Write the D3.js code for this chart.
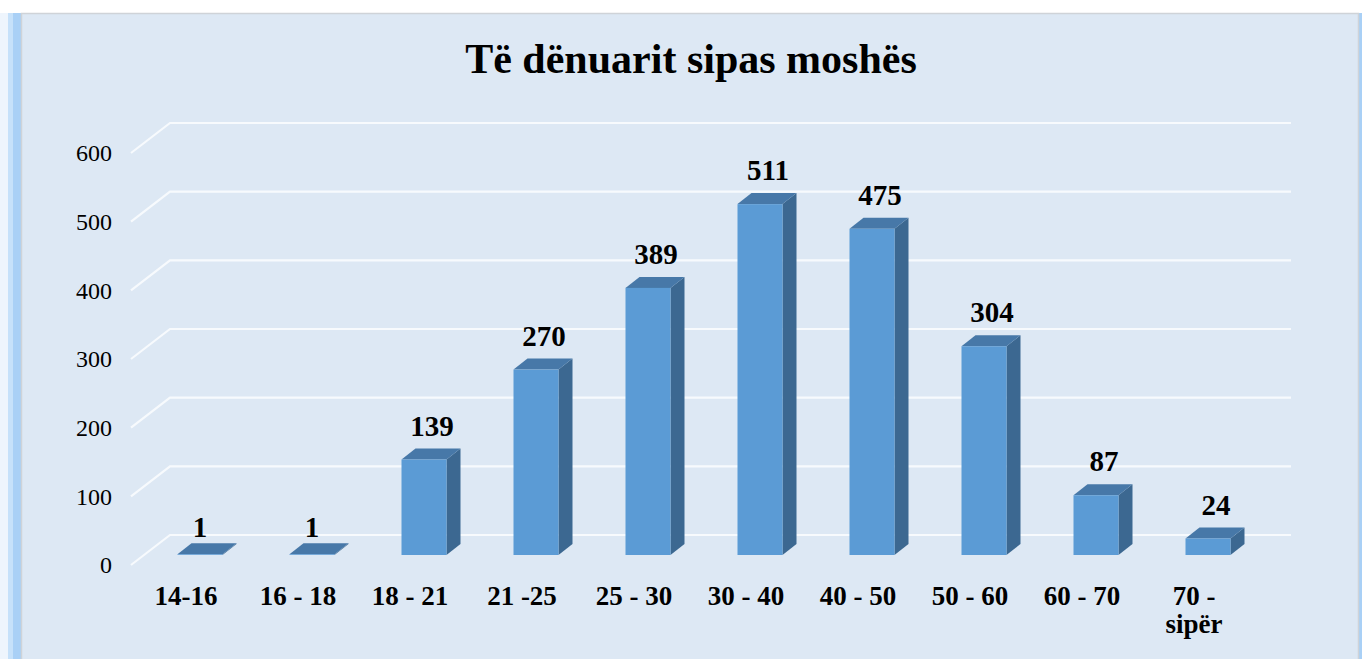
<!DOCTYPE html>
<html>
<head>
<meta charset="utf-8">
<script src="https://cdn.jsdelivr.net/npm/d3@7"></script>
<style>
  body { margin: 0; background: #fff; }
  text { font-family: "Liberation Serif", "Times New Roman", serif; fill: #000; }
</style>
</head>
<body>
<script>
// chart data
const title = 'Të dënuarit sipas moshës';
const categories = ['14-16', '16 - 18', '18 - 21', '21 -25', '25 - 30', '30 - 40', '40 - 50', '50 - 60', '60 - 70', '70 - sipër'];
const values = [1, 1, 139, 270, 389, 511, 475, 304, 87, 24];
const yTicks = [0, 100, 200, 300, 400, 500, 600];

const W = 1362, H = 659;
const svg = d3.select('body').append('svg')
  .attr('width', W)
  .attr('height', H);

// page frame: white top, blue stripes on the left, light blue panel
svg.append('rect').attr('x', 0).attr('y', 0).attr('width', W).attr('height', H).attr('fill', '#fff');
svg.append('rect').attr('x', 0).attr('y', 13).attr('width', 8).attr('height', H - 13).attr('fill', '#eef5fd');
svg.append('rect').attr('x', 8).attr('y', 13).attr('width', 5).attr('height', H - 13).attr('fill', '#c6e1fa');
svg.append('rect').attr('x', 13).attr('y', 13).attr('width', 8).attr('height', H - 13).attr('fill', '#a9d0f6');
svg.append('rect').attr('x', 1359).attr('y', 13).attr('width', 3).attr('height', H - 13).attr('fill', '#a9d0f6');
svg.append('rect').attr('x', 21.5).attr('y', 13.5).attr('width', 1337).attr('height', H)
  .attr('fill', '#dde8f4').attr('stroke', '#cfd3d8').attr('stroke-width', 1.5);

// 3d layout: front plane scales + depth offset of the floor
const x = d3.scaleBand().domain(categories).range([131, 1251]);
const y = d3.scaleLinear().domain([0, 600]).range([565, 153]);
const depth = { dx: 39, dy: -30 };
const backRight = 1291;

// gridlines (slanted side wall + back wall)
svg.append('g').selectAll('path')
  .data(yTicks)
  .enter().append('path')
  .attr('d', t => `M${x.range()[0]},${y(t)} L${x.range()[0] + depth.dx},${y(t) + depth.dy} L${backRight},${y(t) + depth.dy}`)
  .attr('fill', 'none')
  .attr('stroke', '#f7fafd')
  .attr('stroke-width', 2.2);

// y labels
svg.append('g').selectAll('text')
  .data(yTicks)
  .enter().append('text')
  .attr('x', 112)
  .attr('y', t => y(t))
  .attr('dy', '0.35em')
  .attr('text-anchor', 'end')
  .attr('font-size', 24)
  .text(t => t);

// bars
const barW = 45;
const barShift = { dx: 13, dy: -10 };   // where the bar sits in the floor depth
const barDepth = { dx: 14, dy: -11 };
const bars = categories.map((c, i) => {
  const x0 = x(c) + x.bandwidth() / 2 - barW / 2 + barShift.dx;
  const base = y(0) + barShift.dy;
  const top = y(values[i]) + barShift.dy;
  return { c, v: values[i], x0, base, top };
});

const g = svg.append('g');
bars.forEach(b => {
  // side
  g.append('path')
    .attr('d', `M${b.x0 + barW},${b.top} L${b.x0 + barW + barDepth.dx},${b.top + barDepth.dy} L${b.x0 + barW + barDepth.dx},${b.base + barDepth.dy} L${b.x0 + barW},${b.base} Z`)
    .attr('fill', '#3c6891');
  // top
  g.append('path')
    .attr('d', `M${b.x0},${b.top} L${b.x0 + barW},${b.top} L${b.x0 + barW + barDepth.dx},${b.top + barDepth.dy} L${b.x0 + barDepth.dx},${b.top + barDepth.dy} Z`)
    .attr('fill', '#4778a8');
  // front
  g.append('rect')
    .attr('x', b.x0)
    .attr('y', b.top)
    .attr('width', barW)
    .attr('height', b.base - b.top)
    .attr('fill', '#5b9bd5');
});

// value labels (flat bars get their label a bit lower, like the original)
svg.append('g').selectAll('text')
  .data(bars)
  .enter().append('text')
  .attr('x', b => b.x0 + barW / 2 + (b.v < 10 ? 0 : 8))
  .attr('y', b => b.top - (b.v < 10 ? 17 : 24))
  .attr('text-anchor', 'middle')
  .attr('font-size', 29)
  .attr('font-weight', 'bold')
  .text(b => b.v);

// category labels (long ones wrap after the dash)
const catG = svg.append('g');
categories.forEach(c => {
  const lines = c.length > 7 ? c.split(/(?<=-) /) : [c];
  const t = catG.append('text')
    .attr('x', x(c) + x.bandwidth() / 2 - 1)
    .attr('y', 605)
    .attr('text-anchor', 'middle')
    .attr('font-size', 27)
    .attr('font-weight', 'bold');
  lines.forEach((l, k) => {
    t.append('tspan')
      .attr('x', x(c) + x.bandwidth() / 2 - 1)
      .attr('dy', k === 0 ? 0 : 28)
      .text(l);
  });
});

// title
svg.append('text')
  .attr('x', 691)
  .attr('y', 73)
  .attr('text-anchor', 'middle')
  .attr('font-size', 42)
  .attr('font-weight', 'bold')
  .text(title);
</script>
</body>
</html>
